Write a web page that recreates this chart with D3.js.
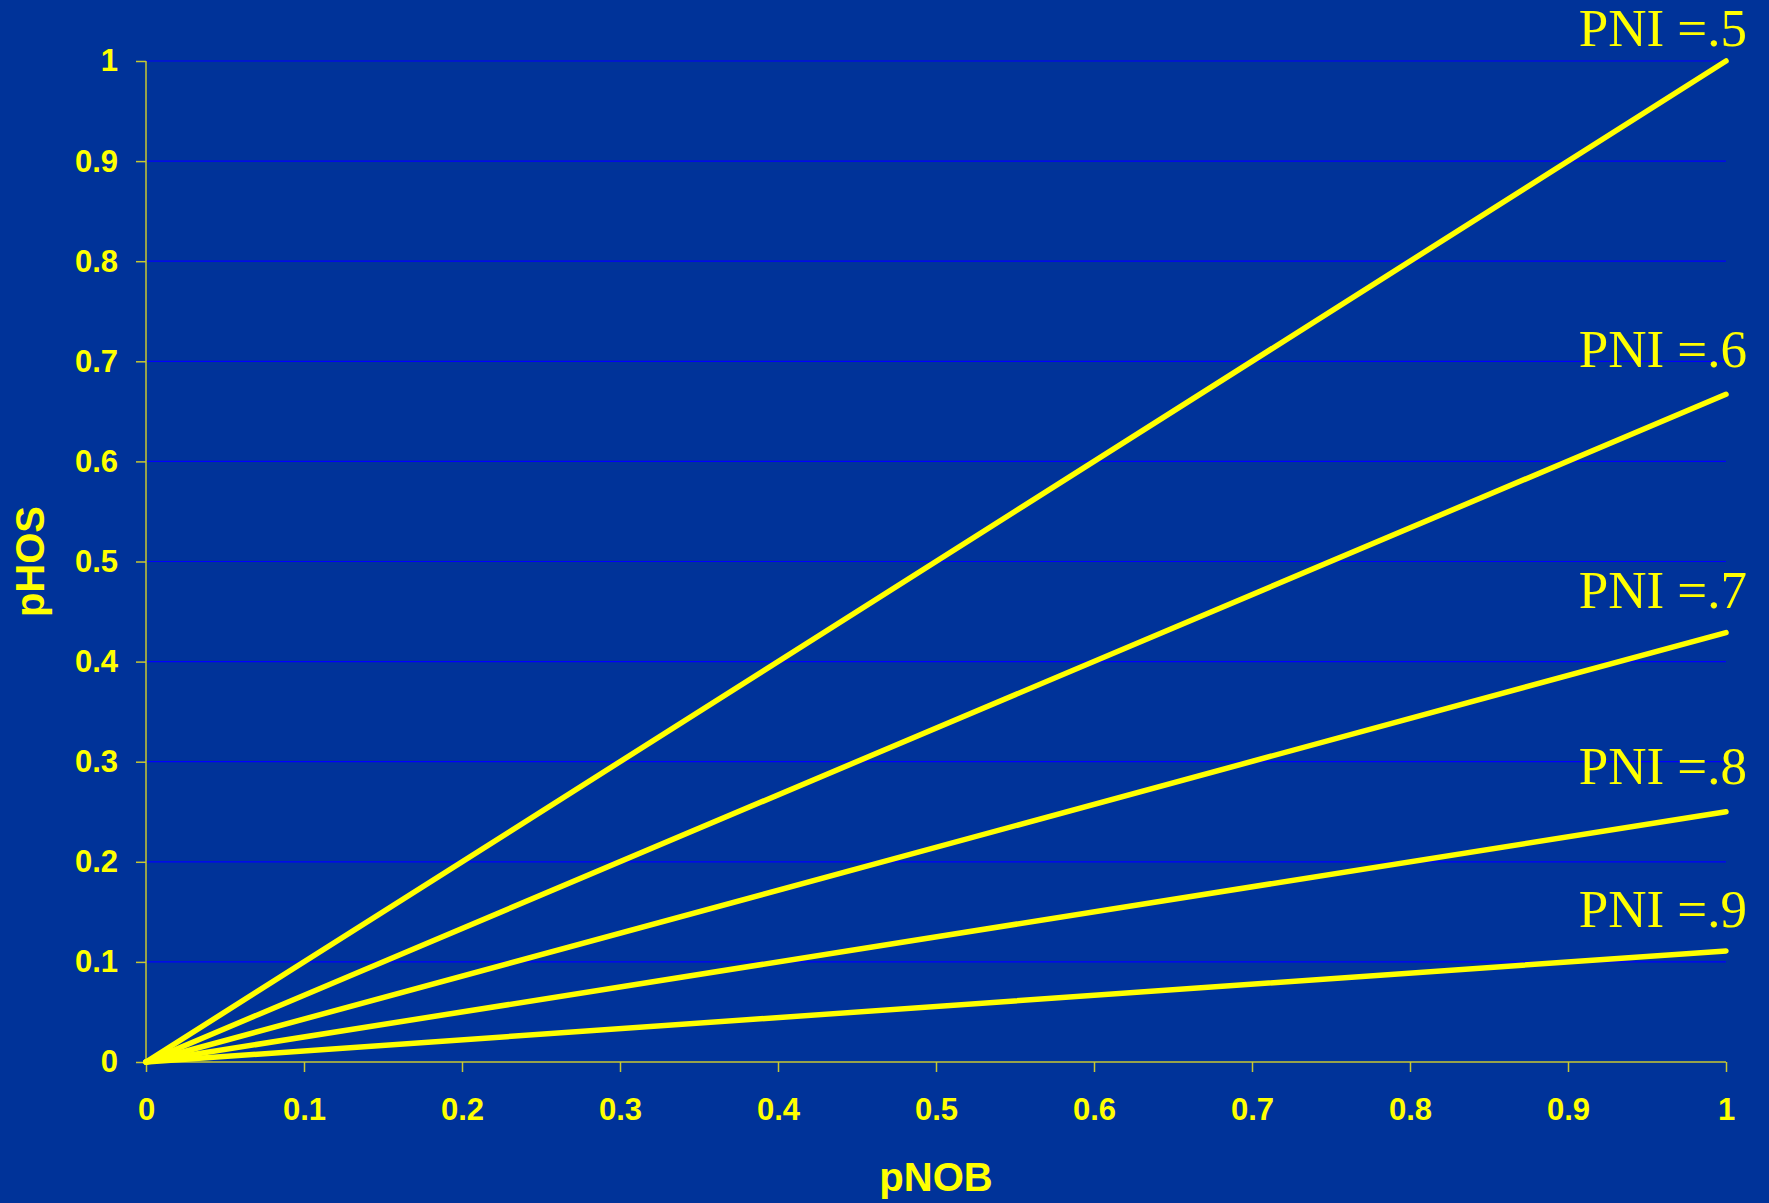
<!DOCTYPE html>
<html>
<head>
<meta charset="utf-8">
<script src="https://cdn.jsdelivr.net/npm/d3@7"></script>
<style>
  html, body { margin: 0; padding: 0; background: #003399; }
  svg { display: block; }
</style>
</head>
<body>
<div id="chart"></div>
<script>
// data
var pniLabels = ["PNI =.5", "PNI =.6", "PNI =.7", "PNI =.8", "PNI =.9"];
var pnobValues = [0, 1];
var pniSeries = [
  [0, 1.0],
  [0, 0.667],
  [0, 0.429],
  [0, 0.25],
  [0, 0.111]
];
// where each label sits, in pHOS units
var labelAt = [1.015, 0.694, 0.454, 0.278, 0.135];
var tickValues = [0, 0.1, 0.2, 0.3, 0.4, 0.5, 0.6, 0.7, 0.8, 0.9, 1];

var svgWidth = 1769;
var svgHeight = 1203;

var margin = { top: 61, right: 43, bottom: 141, left: 146 };
var width = svgWidth - margin.left - margin.right;
var height = svgHeight - margin.top - margin.bottom;

var yellow = "#ffff00";
var axisColor = "#c8c832";

var svg = d3.select("#chart")
  .append("svg")
  .attr("width", svgWidth)
  .attr("height", svgHeight)
  .style("background-color", "#003399");

var chartGroup = svg.append("g")
  .attr("transform", `translate(${margin.left}, ${margin.top})`);

var xScale = d3.scaleLinear().domain([0, 1]).range([0, width]);
var yScale = d3.scaleLinear().domain([0, 1]).range([height, 0]);

// gridlines
chartGroup.selectAll(".grid")
  .data(tickValues.filter(d => d > 0))
  .enter()
  .append("line")
  .attr("x1", 0)
  .attr("x2", width)
  .attr("y1", d => yScale(d))
  .attr("y2", d => yScale(d))
  .attr("stroke", "#0000ff")
  .attr("stroke-width", 1.2);

// axes
var bottomAxis = d3.axisBottom(xScale)
  .tickValues(tickValues)
  .tickSize(10)
  .tickPadding(26)
  .tickFormat(d3.format("~g"));
var leftAxis = d3.axisLeft(yScale)
  .tickValues(tickValues)
  .tickSize(10)
  .tickPadding(18)
  .tickFormat(d3.format("~g"));

var xAxisG = chartGroup.append("g")
  .attr("transform", `translate(0, ${height})`)
  .call(bottomAxis);
var yAxisG = chartGroup.append("g")
  .call(leftAxis);

[xAxisG, yAxisG].forEach(function(g) {
  g.select(".domain").attr("stroke", axisColor).attr("stroke-width", 1.5);
  g.selectAll(".tick line").attr("stroke", axisColor).attr("stroke-width", 1.5);
  g.selectAll(".tick text")
    .attr("fill", yellow)
    .style("font-family", "'Liberation Sans', Arial, sans-serif")
    .style("font-weight", "bold")
    .style("font-size", "31px");
});
yAxisG.select(".domain").attr("d", `M0,${height}V0`);
xAxisG.select(".domain").attr("d", `M0,0H${width}`);

// lines
var line = d3.line()
  .x((d, i) => xScale(pnobValues[i]))
  .y(d => yScale(d));

chartGroup.selectAll(".pni-line")
  .data(pniSeries)
  .enter()
  .append("path")
  .attr("d", line)
  .attr("fill", "none")
  .attr("stroke", yellow)
  .attr("stroke-width", 5.5)
  .attr("stroke-linecap", "round");

// series labels
chartGroup.selectAll(".pni-label")
  .data(pniLabels)
  .enter()
  .append("text")
  .attr("x", xScale(1) + 21)
  .attr("y", (d, i) => yScale(labelAt[i]))
  .attr("text-anchor", "end")
  .attr("fill", yellow)
  .style("font-family", "'Liberation Serif', 'Times New Roman', serif")
  .style("font-size", "53px")
  .text(d => d);

// axis titles
chartGroup.append("text")
  .attr("x", width / 2)
  .attr("y", height + 129)
  .attr("text-anchor", "middle")
  .attr("fill", yellow)
  .style("font-family", "'Liberation Sans', Arial, sans-serif")
  .style("font-weight", "bold")
  .style("font-size", "40px")
  .text("pNOB");

chartGroup.append("text")
  .attr("transform", "rotate(-90)")
  .attr("x", -height / 2)
  .attr("y", -102)
  .attr("text-anchor", "middle")
  .attr("fill", yellow)
  .style("font-family", "'Liberation Sans', Arial, sans-serif")
  .style("font-weight", "bold")
  .style("font-size", "40px")
  .text("pHOS");
</script>
</body>
</html>
